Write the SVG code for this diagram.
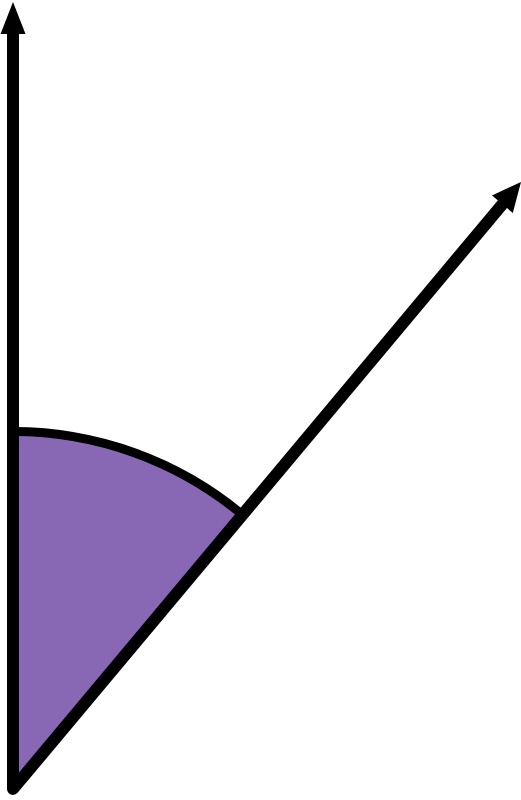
<svg xmlns="http://www.w3.org/2000/svg" width="521" height="800" viewBox="0 0 521 800">
<style>
.ax{fill:none;stroke:#000;stroke-width:12;stroke-linejoin:round;stroke-linecap:butt}
.arc{fill:none;stroke:#000;stroke-width:9}
.head{fill:#000}
.sector{fill:#8868B4;stroke:none}
</style>
<rect width="521" height="800" fill="#fff"/>
<g id="angle">
<path class="sector" d="M13,789 L13,431.5 A357.5,357.5 0 0 1 242.5,514.8 Z"/>
<path class="arc" d="M13,431.5 A357.5,357.5 0 0 1 242.5,514.8"/>
</g>
<g id="connectors">
<polyline class="ax" points="13,34 13,789 503,203.5"/>
<polygon class="head" points="13,2 0.5,34 25.5,34"/>
<polygon class="head" points="521,182 492,195.5 512.8,212.9"/>
</g>
</svg>
